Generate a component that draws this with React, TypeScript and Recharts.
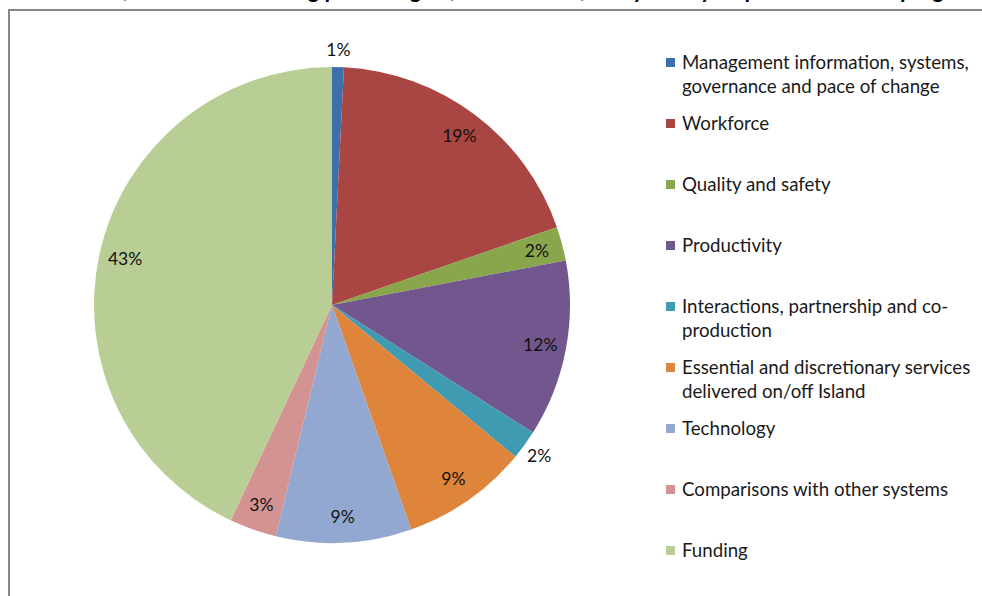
import React from 'react';
import { PieChart, Pie, Cell, Legend } from 'recharts';

const titleText =
  'Number of comments showing percentage of issues identified by survey respondents in the programme, grouped by priority';

const categories = [
  'Management information, systems, governance and pace of change',
  'Workforce',
  'Quality and safety',
  'Productivity',
  'Interactions, partnership and co-production',
  'Essential and discretionary services delivered on/off Island',
  'Technology',
  'Comparisons with other systems',
  'Funding',
];

const values = [0.8, 18.9, 2.3, 12.0, 2.0, 8.6, 9.2, 3.2, 43.0];

const colors = [
  '#3D6FAA',
  '#A94643',
  '#89A64C',
  '#72578F',
  '#3E9BB1',
  '#DE853B',
  '#93A8D1',
  '#D39392',
  '#B9CE95',
];

const data = categories.map((name, i) => ({ name, value: values[i] }));

const FONT = 'Lato, "Open Sans", sans-serif';
const RAD = Math.PI / 180;

const renderLabel = (props: any) => {
  const { cx, cy, midAngle, outerRadius, percent } = props;
  const outside = percent < 0.021;
  const r = outside ? outerRadius + 18 : outerRadius - 26;
  const x = cx + r * Math.cos(-midAngle * RAD);
  const y = cy + r * Math.sin(-midAngle * RAD);
  return (
    <text
      x={x}
      y={y}
      textAnchor="middle"
      dominantBaseline="central"
      fill="#111"
      fontSize={17.5}
      fontFamily={FONT}
    >
      {`${Math.round(percent * 100)}%`}
    </text>
  );
};

const renderLegend = () => (
  <div style={{ position: 'relative', width: 322, height: 596 }}>
    {categories.map((name, i) => (
      <div
        key={name}
        style={{
          position: 'absolute',
          left: 6,
          top: 50 + i * 61,
          display: 'flex',
          alignItems: 'flex-start',
          fontFamily: FONT,
          fontSize: 18.7,
          lineHeight: '24px',
          color: '#1a1a1a',
        }}
      >
        <span
          style={{
            display: 'inline-block',
            width: 9,
            height: 9,
            marginTop: 8,
            marginRight: 7,
            background: colors[i],
            flex: 'none',
          }}
        />
        <span style={{ width: 300 }}>{name}</span>
      </div>
    ))}
  </div>
);

export default function App() {
  return (
    <div
      style={{
        position: 'absolute',
        left: 0,
        top: 0,
        width: 982,
        height: 596,
        overflow: 'hidden',
        background: '#fff',
      }}
    >
      <div
        style={{
          position: 'absolute',
          left: 28,
          top: -24,
          whiteSpace: 'nowrap',
          fontFamily: FONT,
          fontWeight: 700,
          fontStyle: 'italic',
          fontSize: 23,
          lineHeight: '27px',
          color: '#000',
        }}
      >
        {titleText}
      </div>
      <div
        style={{
          position: 'absolute',
          left: 8,
          top: 9,
          width: 1100,
          height: 1100,
          border: '2px solid #878787',
          boxSizing: 'border-box',
        }}
      />
      <div style={{ position: 'absolute', left: 0, top: 0 }}>
        <PieChart width={982} height={596} margin={{ top: 0, right: 0, bottom: 0, left: 0 }}>
          <Pie
            data={data}
            dataKey="value"
            nameKey="name"
            cx={332}
            cy={305}
            outerRadius={238}
            startAngle={90}
            endAngle={-270}
            stroke="none"
            label={renderLabel}
            labelLine={false}
            isAnimationActive={false}
          >
            {data.map((d, i) => (
              <Cell key={d.name} fill={colors[i]} />
            ))}
          </Pie>
          <Legend
            content={renderLegend}
            layout="vertical"
            verticalAlign="top"
            align="right"
            wrapperStyle={{ left: 660, top: 0, width: 322, height: 596 }}
          />
        </PieChart>
      </div>
    </div>
  );
}
